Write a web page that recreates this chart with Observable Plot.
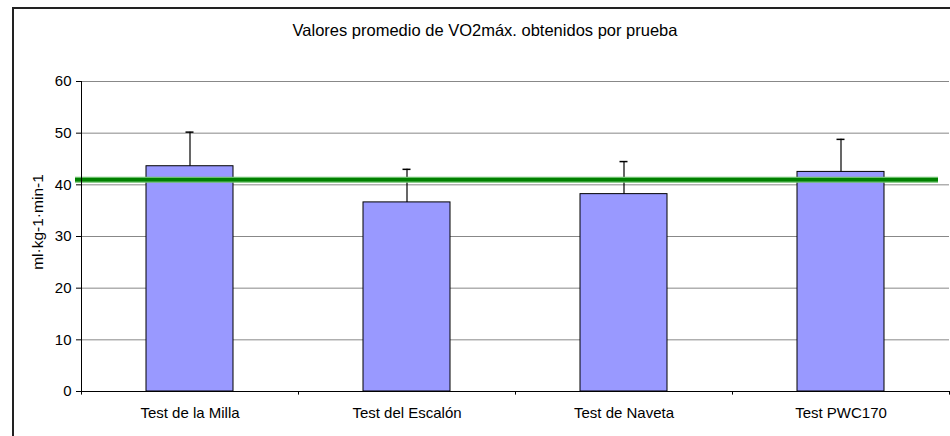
<!DOCTYPE html>
<html>
<head>
<meta charset="utf-8">
<script src="https://cdn.jsdelivr.net/npm/d3@7"></script>
<script src="https://cdn.jsdelivr.net/npm/@observablehq/plot@0.6"></script>
<style>
  html, body { margin: 0; padding: 0; background: #fff; overflow: hidden; }
  #wrap { position: relative; width: 950px; height: 436px; font-family: "Liberation Sans", Arial, sans-serif; }
  #border { position: absolute; left: 12px; top: 7px; width: 960px; height: 460px; border-left: 2px solid #222; border-top: 2px solid #222; box-sizing: border-box; pointer-events: none; }
  #title { position: absolute; left: 0; width: 970px; top: 21px; text-align: center; font-size: 16.5px; color: #000; }
  #ylabel { position: absolute; left: 38px; top: 222px; transform: translate(-50%, -50%) rotate(-90deg); font-size: 15.5px; white-space: nowrap; color: #000; }
  #chart { position: absolute; left: 0; top: 0; }
  #chart svg text { font-size: 15px; }
</style>
</head>
<body>
<div id="wrap">
  <div id="chart"></div>
  <div id="border"></div>
  <div id="title">Valores promedio de VO2máx. obtenidos por prueba</div>
  <div id="ylabel">ml·kg-1·min-1</div>
</div>
<script>
const categories = ["Test de la Milla", "Test del Escalón", "Test de Naveta", "Test PWC170"];
const means = [43.6, 36.6, 38.2, 42.5];
const sds = [6.6, 6.4, 6.3, 6.3];
const reference = [41];
const yTicks = [0, 10, 20, 30, 40, 50, 60];

const data = categories.map((c, i) => ({test: c, mean: means[i], top: means[i] + sds[i]}));

const W = 950, H = 436, mL = 81, mR = 1, mT = 81, mB = 45;
const step = (W - mL - mR) / 4;

const chart = Plot.plot({
  width: W,
  height: H,
  marginLeft: mL,
  marginRight: mR,
  marginTop: mT,
  marginBottom: mB,
  style: {fontFamily: "'Liberation Sans', Arial, sans-serif", fontSize: "15px", color: "#000", background: "transparent"},
  x: {domain: categories, paddingInner: 0.6, paddingOuter: 0.3, label: null},
  y: {domain: [0, 60], label: null},
  marks: [
    Plot.gridY(yTicks, {stroke: "#888", strokeOpacity: 1, strokeWidth: 1}),
    Plot.barY(data, {x: "test", y: "mean", fill: "#9999ff", stroke: "#000", strokeWidth: 1}),
    Plot.ruleX(data, {x: "test", y1: "mean", y2: "top", stroke: "#000", strokeWidth: 1.2}),
    Plot.tickY(data, {x: "test", y: "top", stroke: "#000", strokeWidth: 1.5, insetLeft: 39.5, insetRight: 39.5}),
    Plot.ruleY(reference, {stroke: "#6cc06c", strokeWidth: 6, insetLeft: -6, insetRight: 11}),
    Plot.ruleY(reference, {stroke: "#008000", strokeWidth: 3.5, insetLeft: -6, insetRight: 11}),
    Plot.ruleY([0], {stroke: "#000", strokeWidth: 1}),
    Plot.ruleX([categories[0]], {dx: -step / 2, y1: 0, y2: 60, stroke: "#000", strokeWidth: 1}),
    Plot.ruleX(categories, {x: d => d, dx: -step / 2, y1: 0, y2: -0.7, stroke: "#000"}),
    Plot.ruleX([categories[3]], {dx: step / 2, y1: 0, y2: -0.7, stroke: "#000"}),
    Plot.axisY(yTicks, {tickSize: 5, tickPadding: 5, label: null, stroke: "#000", fill: "#000", fontSize: 15}),
    Plot.axisX({tickSize: 0, tickPadding: 16, label: null, fill: "#000", fontSize: 15})
  ]
});
document.getElementById("chart").appendChild(chart);
</script>
</body>
</html>
